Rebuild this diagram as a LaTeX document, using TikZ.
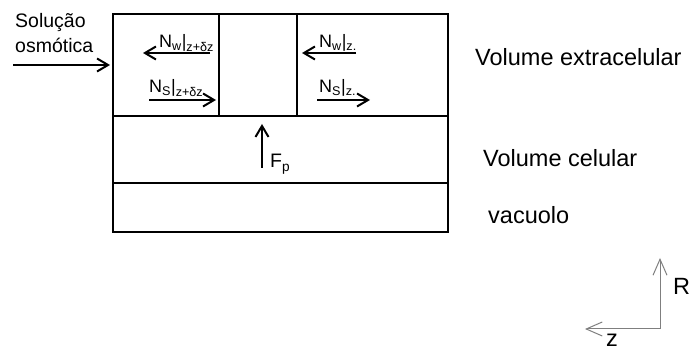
\documentclass[tikz,border=0pt]{standalone}
\usepackage{fontspec}
\setmainfont{Liberation Sans}
\usetikzlibrary{arrows.meta}
\definecolor{axisgrey}{HTML}{7F7F7F}
\newcommand{\flux}[3]{N\textsubscript{#1}|\textsubscript{#2}}

\begin{document}
\begin{tikzpicture}[x=1pt, y=-1pt,
  wall/.style={draw=black, line width=2pt},
  arr/.style={-{Straight Barb[length=11pt,width=13pt]}, line width=2pt},
  ax/.style={-{Straight Barb[length=16pt,width=14pt]}, axisgrey, line width=1pt},
  big/.style={font=\fontsize{23.5}{28}\selectfont, inner sep=0pt, anchor=base west},
  lbl/.style={font=\fontsize{19.5}{25}\selectfont, inner sep=0pt, anchor=base west, align=left},
  flx/.style={font=\fontsize{18}{22}\selectfont, inner sep=0pt, anchor=base west}
]
\useasboundingbox (0,0) rectangle (689,352);

% cell walls
\draw[wall] (113,14) rectangle (448,232);
\draw[wall] (113,116) -- (448,116);
\draw[wall] (113,183) -- (448,183);
\draw[wall] (219,14) -- (219,116);
\draw[wall] (297,14) -- (297,116);

% labels
\node[lbl] (sol) at (15,53) {Solução\\osmótica};
\node[big] (extra) at (475,66) {Volume extracelular};
\node[big] (cel) at (483,167) {Volume celular};
\node[big] (vac) at (488,224) {vacuolo};

\node[flx] (nwl) at (159,48) {\flux{w}{z+δz}{}};
\node[flx] (nsl) at (149,93) {\flux{S}{z+δz}{}};
\node[flx] (nwr) at (319,48) {\flux{w}{z.}{}};
\node[flx] (nsr) at (319,93) {\flux{S}{z.}{}};
\node[lbl] (fp) at (270,168) {F\textsubscript{p}};

% arrow ends
\coordinate (sol-s) at (13,65);   \coordinate (sol-e) at (110,65);
\coordinate (nwl-s) at (210,53);  \coordinate (nwl-e) at (143,53);
\coordinate (nsl-s) at (149,100); \coordinate (nsl-e) at (216,100);
\coordinate (nwr-s) at (356,53);  \coordinate (nwr-e) at (302,53);
\coordinate (nsr-s) at (317,100); \coordinate (nsr-e) at (370,100);
\coordinate (fp-s) at (262,168);  \coordinate (fp-e) at (262,124);

\draw[arr] (sol-s) -- (sol-e);
\draw[arr] (nwl-s) -- (nwl-e);
\draw[arr] (nsl-s) -- (nsl-e);
\draw[arr] (nwr-s) -- (nwr-e);
\draw[arr] (nsr-s) -- (nsr-e);
\draw[arr] (fp-s) -- (fp-e);

% axes
\coordinate (orig) at (660,329);
\coordinate (r-end) at (660,258);
\coordinate (z-end) at (585,329);
\draw[ax] (orig) -- (r-end);
\draw[ax] (orig) -- (z-end);
\node[big] (rlab) at (673,295) {R};
\node[big] (zlab) at (606,347) {z};
\end{tikzpicture}
\end{document}
